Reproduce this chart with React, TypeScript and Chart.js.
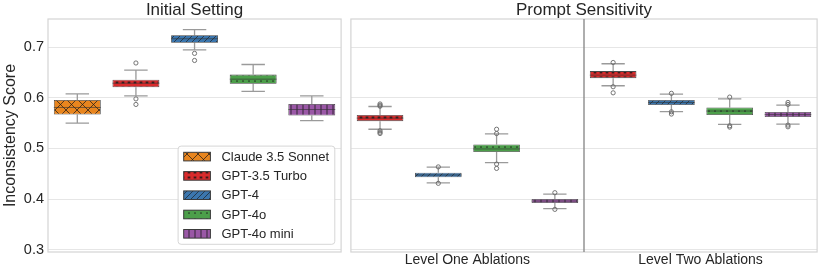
import React, { useEffect, useRef } from 'react';
import { Chart, registerables } from 'chart.js';

Chart.register(...registerables);

const FONT = "'Liberation Sans', Arial, Helvetica, sans-serif";
const TEXT = '#262626';

// ---- models / styles ----
const models = ['Claude 3.5 Sonnet', 'GPT-3.5 Turbo', 'GPT-4', 'GPT-4o', 'GPT-4o mini'];
const modelColors = ['#e8851e', '#d92b2c', '#3b76ae', '#4c9f4a', '#9a58a6'];
const modelHatches = ['x', '*', '/', '.', '|'];

// ---- y axis ----
const yTicks = [0.3, 0.4, 0.5, 0.6, 0.7];
const yMin = 0.2952;
const yMax = 0.756;

// ---- Initial Setting (model index per box) ----
const initialModels = [0, 1, 2, 3, 4];
const initialQ1 = [0.567, 0.621, 0.709, 0.628, 0.565];
const initialMed = [0.581, 0.629, 0.717, 0.637, 0.577];
const initialQ3 = [0.596, 0.636, 0.724, 0.646, 0.588];
const initialLo = [0.550, 0.604, 0.695, 0.613, 0.555];
const initialHi = [0.608, 0.655, 0.735, 0.666, 0.604];
const initialOut = [[], [0.669, 0.598, 0.587], [0.688, 0.674], [], []];

// ---- Prompt Sensitivity ----
const ablationGroups = ['Level One Ablations', 'Level Two Ablations'];
const ablationModels = [1, 2, 3, 4];

const l1Q1 = [0.554, 0.443, 0.493, 0.392];
const l1Med = [0.560, 0.4475, 0.499, 0.396];
const l1Q3 = [0.566, 0.452, 0.508, 0.400];
const l1Lo = [0.538, 0.432, 0.472, 0.381];
const l1Hi = [0.583, 0.463, 0.529, 0.4095];
const l1Out = [
  [0.588, 0.5855, 0.5835, 0.535, 0.532, 0.5295],
  [0.4635, 0.431],
  [0.538, 0.5295, 0.469, 0.4605],
  [0.4125, 0.3795],
];

const l2Q1 = [0.639, 0.586, 0.566, 0.562];
const l2Med = [0.645, 0.591, 0.574, 0.567];
const l2Q3 = [0.653, 0.596, 0.581, 0.572];
const l2Lo = [0.624, 0.573, 0.5475, 0.548];
const l2Hi = [0.6675, 0.6075, 0.598, 0.5857];
const l2Out = [
  [0.670, 0.622, 0.610],
  [0.609, 0.5725, 0.568],
  [0.6016, 0.5448, 0.5422],
  [0.591, 0.5871, 0.5461, 0.5428],
];

type Stat = { model: number; q1: number; med: number; q3: number; lo: number; hi: number; out: number[] };

function buildStats(ms: number[], q1: number[], med: number[], q3: number[], lo: number[], hi: number[], out: number[][]): Stat[] {
  return ms.map((m, i) => ({ model: m, q1: q1[i], med: med[i], q3: q3[i], lo: lo[i], hi: hi[i], out: out[i] }));
}

function makePattern(ctx: CanvasRenderingContext2D, color: string, hatch: string): CanvasPattern | string {
  const w = hatch === 'x' ? 11 : 6;
  const h = hatch === 'x' ? 11 : hatch === '*' ? 4.5 : 6;
  const c = document.createElement('canvas');
  c.width = w;
  c.height = Math.round(h);
  const g = c.getContext('2d');
  if (!g) return color;
  const H = c.height;
  g.fillStyle = color;
  g.fillRect(0, 0, w, H);
  const ink = 'rgba(25,25,25,0.8)';
  g.strokeStyle = ink;
  g.fillStyle = ink;
  g.lineWidth = 0.9;
  if (hatch === 'x') {
    g.beginPath();
    g.moveTo(0, 0); g.lineTo(w, H);
    g.moveTo(0, H); g.lineTo(w, 0);
    g.stroke();
  } else if (hatch === '/') {
    g.lineWidth = 0.8;
    g.beginPath();
    g.moveTo(0, H); g.lineTo(w, 0);
    g.moveTo(-w, H); g.lineTo(0, 0);
    g.moveTo(w, H); g.lineTo(2 * w, 0);
    g.stroke();
  } else if (hatch === '.') {
    g.beginPath();
    g.arc(3, 3, 0.85, 0, Math.PI * 2);
    g.fill();
  } else if (hatch === '|') {
    g.lineWidth = 1;
    g.beginPath();
    g.moveTo(3, 0); g.lineTo(3, H);
    g.stroke();
  } else if (hatch === '*') {
    g.lineWidth = 0.7;
    const cx = 3, cy = 2.5, r = 1.5;
    g.beginPath();
    g.moveTo(cx - r, cy); g.lineTo(cx + r, cy);
    g.moveTo(cx - r * 0.7, cy - r * 0.7); g.lineTo(cx + r * 0.7, cy + r * 0.7);
    g.moveTo(cx - r * 0.7, cy + r * 0.7); g.lineTo(cx + r * 0.7, cy - r * 0.7);
    g.moveTo(cx, cy - r); g.lineTo(cx, cy + r);
    g.stroke();
  }
  return ctx.createPattern(c, 'repeat') || color;
}

type PanelOpts = {
  stats: Stat[];
  slotLabels: string[];
  title: string;
  showY: boolean;
  groupLabels?: string[];
  separators?: number[];
  legend?: boolean;
  ctx: CanvasRenderingContext2D;
  edge: string;
  padding: { left: number; right: number; top: number; bottom: number };
};

function panelConfig(o: PanelOpts): any {
  const legendPatterns = models.map((_, i) => makePattern(o.ctx, modelColors[i], modelHatches[i]));
  const slotPatterns = o.stats.map((s) => makePattern(o.ctx, modelColors[s.model], modelHatches[s.model]));

  const boxDecor = {
    id: 'boxDecor',
    beforeDatasetsDraw(chart: any) {
      const { ctx, chartArea, scales } = chart;
      const x = scales.x, y = scales.y;
      const meta = chart.getDatasetMeta(0);
      ctx.save();
      ctx.strokeStyle = '#d4d4d4';
      ctx.lineWidth = 1.2;
      ctx.strokeRect(chartArea.left, chartArea.top, chartArea.right - chartArea.left, chartArea.bottom - chartArea.top);
      (o.separators || []).forEach((v) => {
        const px = x.getPixelForValue(v);
        ctx.strokeStyle = '#8c8c8c';
        ctx.lineWidth = 1.4;
        ctx.beginPath();
        ctx.moveTo(px, chartArea.top);
        ctx.lineTo(px, chartArea.bottom);
        ctx.stroke();
      });
      ctx.strokeStyle = '#9a9a9a';
      ctx.lineWidth = 1.3;
      o.stats.forEach((s, i) => {
        const el = meta.data[i];
        const cx = el.x;
        const half = el.width / 4;
        const yq1 = y.getPixelForValue(s.q1), yq3 = y.getPixelForValue(s.q3);
        const ylo = y.getPixelForValue(s.lo), yhi = y.getPixelForValue(s.hi);
        ctx.beginPath();
        ctx.moveTo(cx, yq3); ctx.lineTo(cx, yhi);
        ctx.moveTo(cx, yq1); ctx.lineTo(cx, ylo);
        ctx.moveTo(cx - half, yhi); ctx.lineTo(cx + half, yhi);
        ctx.moveTo(cx - half, ylo); ctx.lineTo(cx + half, ylo);
        ctx.stroke();
      });
      ctx.restore();
    },
    afterDatasetDraw(chart: any, args: any) {
      if (args.index !== 0) return;
      const { ctx, scales } = chart;
      const y = scales.y;
      const meta = chart.getDatasetMeta(0);
      ctx.save();
      ctx.strokeStyle = 'rgba(50,50,50,0.75)';
      ctx.lineWidth = 0.8;
      o.stats.forEach((s, i) => {
        const el = meta.data[i];
        const ym = y.getPixelForValue(s.med);
        ctx.beginPath();
        ctx.moveTo(el.x - el.width / 2, ym);
        ctx.lineTo(el.x + el.width / 2, ym);
        ctx.stroke();
      });
      ctx.restore();
    },
    afterDraw(chart: any) {
      if (!o.legend) return;
      const { ctx, chartArea } = chart;
      ctx.save();
      ctx.font = `13px ${FONT}`;
      const textW = Math.max(...models.map((m) => ctx.measureText(m).width));
      const rowH = 19.3;
      const patchW = 26.7, patchH = 8.6;
      const padL = 5.6, gap = 11, padR = 5.7, padV = 10.5;
      const w = padL + patchW + gap + textW + padR;
      const h = padV * 2 + rowH * (models.length - 1);
      const right = chartArea.right - 6.3;
      const bottom = chartArea.bottom - 7.7;
      const left = right - w, top = bottom - h;
      ctx.beginPath();
      (ctx as any).roundRect(left, top, w, h, 3);
      ctx.fillStyle = 'rgba(255,255,255,0.85)';
      ctx.fill();
      ctx.strokeStyle = '#d6d6d6';
      ctx.lineWidth = 1;
      ctx.stroke();
      models.forEach((m, i) => {
        const cy = top + padV + i * rowH;
        ctx.fillStyle = legendPatterns[i] as any;
        ctx.fillRect(left + padL, cy - patchH / 2, patchW, patchH);
        ctx.strokeStyle = '#3a3a3a';
        ctx.lineWidth = 1;
        ctx.strokeRect(left + padL, cy - patchH / 2, patchW, patchH);
        ctx.fillStyle = TEXT;
        ctx.textAlign = 'left';
        ctx.textBaseline = 'middle';
        ctx.fillText(m, left + padL + patchW + gap, cy + 0.5);
      });
      ctx.restore();
    },
  };

  const outliers: any[] = [];
  o.stats.forEach((s, i) => s.out.forEach((v) => outliers.push({ x: o.slotLabels[i], y: v })));

  const scales: any = {
    x: { type: 'category', display: false, offset: true, grid: { display: false } },
    y: {
      type: 'linear',
      min: yMin,
      max: yMax,
      afterBuildTicks: (s: any) => { s.ticks = yTicks.map((v) => ({ value: v })); },
      afterFit: (s: any) => { s.width = o.showY ? 48 : 0; },
      ticks: {
        display: o.showY,
        padding: 4,
        color: TEXT,
        font: { family: FONT, size: 14.5 },
        callback: (v: any) => Number(v).toFixed(1),
      },
      grid: { color: '#e6e6e6', lineWidth: 1, drawTicks: false },
      border: { display: false },
      title: {
        display: o.showY,
        text: 'Inconsistency Score',
        color: TEXT,
        font: { family: FONT, size: 16 },
        padding: { top: 1, bottom: 0 },
      },
    },
  };
  if (o.groupLabels) {
    scales.x2 = {
      type: 'category',
      labels: o.groupLabels,
      position: 'bottom',
      offset: true,
      grid: { display: false, drawTicks: false },
      border: { display: false },
      afterFit: (s: any) => { s.height = 20; },
      ticks: { color: TEXT, font: { family: FONT, size: 14 }, padding: 0, maxRotation: 0 },
    };
  }

  return {
    type: 'bar',
    data: {
      labels: o.slotLabels,
      datasets: [
        {
          type: 'bar',
          data: o.stats.map((s) => [s.q1, s.q3]),
          backgroundColor: (c: any) => slotPatterns[c.dataIndex] ?? modelColors[0],
          borderColor: o.edge,
          borderWidth: 0.8,
          borderSkipped: false,
          inflateAmount: 0,
          barPercentage: 0.8,
          categoryPercentage: 1.0,
          order: 2,
        },
        {
          type: 'scatter',
          data: outliers,
          pointRadius: 2.1,
          pointStyle: 'circle',
          pointBorderColor: '#666666',
          pointBackgroundColor: 'rgba(255,255,255,0)',
          pointBorderWidth: 0.9,
          showLine: false,
          order: 0,
        },
      ],
    },
    options: {
      animation: false,
      responsive: false,
      maintainAspectRatio: false,
      events: [],
      layout: { padding: o.padding },
      plugins: {
        legend: { display: false },
        tooltip: { enabled: false },
        title: {
          display: true,
          text: o.title,
          color: TEXT,
          fullSize: false,
          font: { family: FONT, size: 17, weight: 'normal', lineHeight: 1 },
          padding: { top: 2, bottom: 0 },
        },
      },
      scales,
    },
    plugins: [boxDecor],
  };
}

export default function App() {
  const leftRef = useRef<HTMLCanvasElement>(null);
  const rightRef = useRef<HTMLCanvasElement>(null);

  useEffect(() => {
    const lc = leftRef.current!, rc = rightRef.current!;
    const lctx = lc.getContext('2d')!;
    const rctx = rc.getContext('2d')!;

    const initialStats = buildStats(initialModels, initialQ1, initialMed, initialQ3, initialLo, initialHi, initialOut);
    const ablStats = [
      ...buildStats(ablationModels, l1Q1, l1Med, l1Q3, l1Lo, l1Hi, l1Out),
      ...buildStats(ablationModels, l2Q1, l2Med, l2Q3, l2Lo, l2Hi, l2Out),
    ];

    const left = new Chart(lc, panelConfig({
      stats: initialStats,
      slotLabels: initialStats.map((s, i) => `${models[s.model]}#${i}`),
      title: 'Initial Setting',
      showY: true,
      legend: true,
      ctx: lctx,
      edge: '#3c3c3c',
      padding: { left: 0, right: 4, top: 0, bottom: 20 },
    }));
    const right = new Chart(rc, panelConfig({
      stats: ablStats,
      slotLabels: ablStats.map((s, i) => `${ablationGroups[Math.floor(i / ablationModels.length)]}|${models[s.model]}`),
      title: 'Prompt Sensitivity',
      showY: false,
      groupLabels: ablationGroups,
      separators: [ablationModels.length - 0.5],
      ctx: rctx,
      edge: '#4a4a4a',
      padding: { left: 1, right: 4, top: 0, bottom: 0 },
    }));
    return () => { left.destroy(); right.destroy(); };
  }, []);

  return (
    <div style={{ position: 'fixed', left: 0, top: 0, width: 822, height: 272, background: '#fff' }}>
      <canvas ref={leftRef} width={346} height={272} style={{ position: 'absolute', left: 0, top: 0, width: 346, height: 272 }} />
      <canvas ref={rightRef} width={476} height={272} style={{ position: 'absolute', left: 346, top: 0, width: 476, height: 272 }} />
    </div>
  );
}
